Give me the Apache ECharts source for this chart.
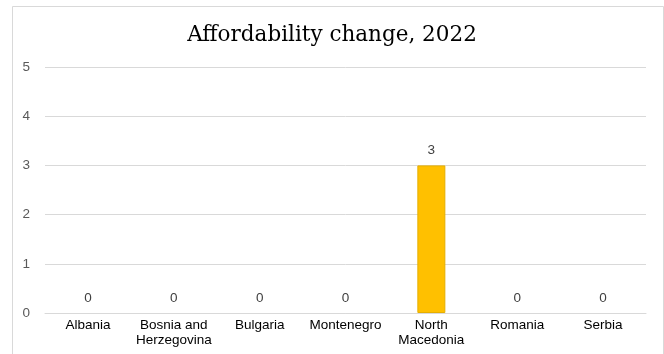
<!DOCTYPE html>
<html>
<head>
<meta charset="utf-8">
<script src="https://cdn.jsdelivr.net/npm/echarts@6/dist/echarts.min.js"></script>
<style>
  html, body { margin: 0; padding: 0; background: #fff; }
  #chart { width: 664px; height: 354px; }
</style>
</head>
<body>
<div id="chart"></div>
<script>
// Affordability change by country, 2022
const countries = ['Albania', 'Bosnia and\nHerzegovina', 'Bulgaria', 'Montenegro', 'North\nMacedonia', 'Romania', 'Serbia'];
const changeValues = [0, 0, 0, 0, 3, 0, 0];
const yTicks = [0, 1, 2, 3, 4, 5];

// Outline only bars with height, so zero values draw no stray line on the axis
const barData = changeValues.map(v => ({
  value: v,
  itemStyle: { borderWidth: v > 0 ? 1 : 0 }
}));

const chart = echarts.init(document.getElementById('chart'));
chart.setOption({
  backgroundColor: '#ffffff',
  animation: false,
  title: {
    text: 'Affordability change, 2022',
    left: 'center',
    top: 19,
    textStyle: {
      fontFamily: 'DejaVu Serif',
      fontWeight: 'normal',
      fontSize: 21.5,
      color: '#000000'
    }
  },
  graphic: [{
    type: 'rect',
    shape: { x: 12.5, y: 6.5, width: 651, height: 350 },
    style: { fill: 'none', stroke: '#d9d9d9', lineWidth: 1 },
    silent: true
  }],
  grid: { left: 45, right: 18, top: 67, bottom: 41 },
  xAxis: {
    type: 'category',
    data: countries,
    axisTick: { show: false },
    axisLine: { lineStyle: { color: '#d9d9d9', width: 1 } },
    axisLabel: {
      color: '#000000',
      fontFamily: 'Liberation Sans',
      fontSize: 13.5,
      lineHeight: 15,
      margin: 5,
      interval: 0
    }
  },
  yAxis: {
    type: 'value',
    min: yTicks[0],
    max: yTicks[yTicks.length - 1],
    interval: 1,
    axisLine: { show: false },
    axisTick: { show: false },
    splitLine: { lineStyle: { color: '#d9d9d9', width: 1 } },
    axisLabel: {
      color: '#595959',
      fontFamily: 'Liberation Sans',
      fontSize: 13.5,
      margin: 15
    }
  },
  series: [{
    type: 'bar',
    data: barData,
    barWidth: 28,
    itemStyle: { color: '#FFC000', borderColor: '#E6AE00' },
    label: {
      show: true,
      position: 'top',
      distance: 8,
      color: '#404040',
      fontFamily: 'Liberation Sans',
      fontSize: 13.5
    }
  }]
});
</script>
</body>
</html>
